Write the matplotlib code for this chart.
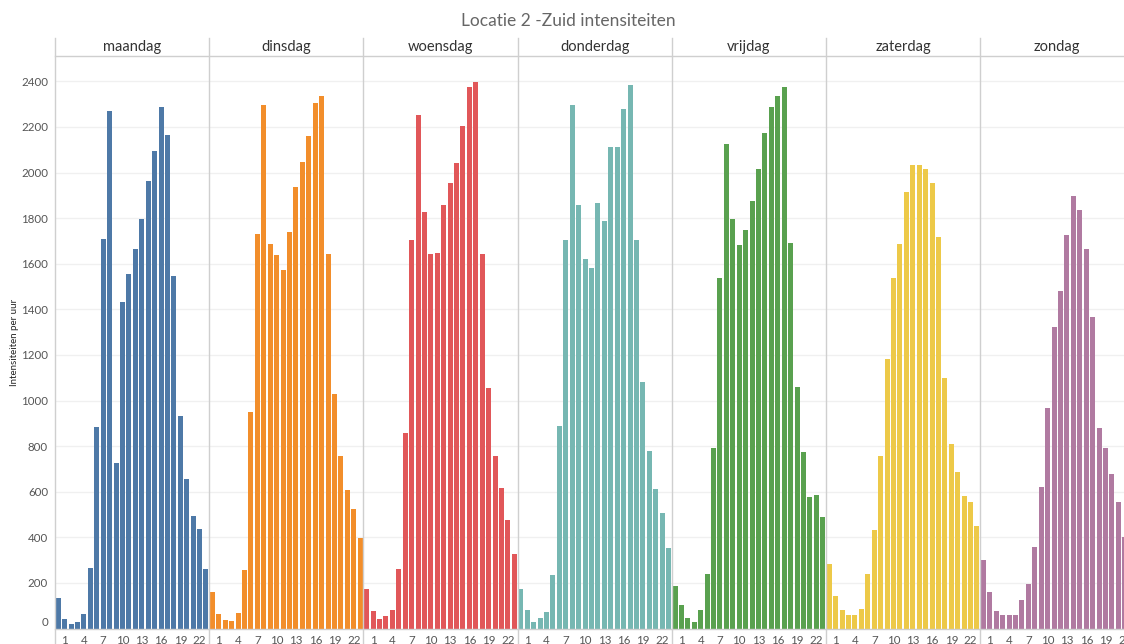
#!/usr/bin/env python3
"""
Locatie 2 - Zuid: hourly traffic intensities, one small panel per weekday.
"""

from __future__ import annotations

import matplotlib

matplotlib.use("Agg")
import matplotlib.pyplot as plt
from matplotlib.lines import Line2D


# ------------------------------ data ------------------------------ #
hours = list(range(24))
tick_hours = [1, 4, 7, 10, 13, 16, 19, 22]
y_ticks = [0, 200, 400, 600, 800, 1000, 1200, 1400, 1600, 1800, 2000, 2200, 2400]

days = ["maandag", "dinsdag", "woensdag", "donderdag", "vrijdag", "zaterdag", "zondag"]

maandag = [134, 43, 21, 28, 65, 265, 882, 1709, 2268, 726, 1434, 1556,
           1666, 1794, 1964, 2096, 2289, 2163, 1548, 932, 655, 494, 437, 261]
dinsdag = [160, 65, 38, 34, 69, 258, 948, 1732, 2294, 1687, 1639, 1574,
           1740, 1938, 2048, 2162, 2303, 2334, 1644, 1028, 757, 607, 526, 397]
woensdag = [172, 76, 43, 55, 81, 261, 858, 1706, 2251, 1825, 1644, 1649,
            1856, 1955, 2040, 2206, 2373, 2396, 1644, 1056, 757, 616, 476, 327]
donderdag = [172, 81, 28, 45, 72, 234, 889, 1706, 2298, 1859, 1622, 1579,
             1868, 1789, 2114, 2114, 2280, 2382, 1706, 1082, 779, 612, 507, 353]
vrijdag = [187, 103, 45, 28, 81, 239, 793, 1539, 2127, 1797, 1684, 1749,
           1873, 2017, 2175, 2289, 2334, 2377, 1692, 1059, 774, 576, 586, 488]
zaterdag = [282, 143, 81, 58, 58, 84, 239, 432, 757, 1183, 1539, 1687,
            1916, 2031, 2031, 2017, 1955, 1715, 1099, 810, 686, 581, 555, 449]
zondag = [301, 160, 76, 58, 58, 58, 124, 194, 358, 621, 968, 1324,
          1481, 1727, 1899, 1837, 1666, 1367, 880, 793, 678, 555, 402, 290]

series = [maandag, dinsdag, woensdag, donderdag, vrijdag, zaterdag, zondag]
colors = ["#4e79a7", "#f28e2b", "#e15759", "#76b7b2", "#59a14f", "#edc948", "#b07aa1"]
# ------------------------------------------------------------------ #

W, H = 1124, 644
LEFT = 55.0          # px, left edge of first panel
PANEL_W = 154.2      # px, width of one day panel
PLOT_TOP = 56.0      # px from top
PLOT_BOTTOM = 628.5  # px from top (value 0)
HEADER_TOP = 38.0
Y_MAX = 2511

GRID_C = "#f0f0f0"
LINE_C = "#cfcfcf"
TEXT_C = "#555555"


def fx(px: float) -> float:
    return px / W


def fy(py: float) -> float:
    return 1.0 - py / H


def main() -> None:
    plt.rcParams["font.family"] = ["Lato", "DejaVu Sans"]
    fig = plt.figure(figsize=(W / 100, H / 100), dpi=100)

    plot_h = (PLOT_BOTTOM - PLOT_TOP) / H

    for i, (day, vals, col) in enumerate(zip(days, series, colors)):
        x0 = LEFT + i * PANEL_W

        ax = fig.add_axes([fx(x0), fy(PLOT_BOTTOM), PANEL_W / W, plot_h])
        ax.bar(hours, vals, width=0.78, color=col, zorder=2)
        ax.set_xlim(-0.5, 23.5)
        ax.set_ylim(0, Y_MAX)
        ax.set_xticks(tick_hours)
        ax.set_xticklabels([str(h) for h in tick_hours])
        ax.set_yticks(y_ticks)
        ax.grid(axis="y", color=GRID_C, linewidth=1.0, zorder=0)
        ax.set_axisbelow(True)
        for side in ("top", "right", "left"):
            ax.spines[side].set_visible(False)
        ax.spines["bottom"].set_color(LINE_C)
        ax.spines["bottom"].set_linewidth(1.0)
        ax.tick_params(axis="x", length=0, pad=4.5, labelsize=8.3, labelcolor=TEXT_C)
        if i == 0:
            ax.tick_params(axis="y", length=0, pad=5, labelsize=8.3, labelcolor=TEXT_C)
            ax.set_yticklabels([str(v) for v in y_ticks])
            for lab in ax.get_yticklabels():
                if lab.get_text() == "0":
                    lab.set_verticalalignment("bottom")
        else:
            ax.tick_params(axis="y", length=0, labelleft=False)

        # day header
        fig.text(fx(x0 + PANEL_W / 2), fy((HEADER_TOP + PLOT_TOP) / 2), day,
                 ha="center", va="center", fontsize=10.5, color="#333333")

    # panel separators and header underline
    for i in range(len(days) + 1):
        xs = fx(LEFT + i * PANEL_W)
        fig.add_artist(Line2D([xs, xs], [0, fy(HEADER_TOP)], color=LINE_C, linewidth=1.0))
    fig.add_artist(Line2D([fx(LEFT), 1.0], [fy(PLOT_TOP), fy(PLOT_TOP)],
                          color=LINE_C, linewidth=1.0))

    fig.text(fx(568), fy(21), "Locatie 2 -Zuid intensiteiten",
             ha="center", va="center", fontsize=12.5, color="#666666")
    fig.text(fx(15), fy((PLOT_TOP + PLOT_BOTTOM) / 2), "Intensiteiten per uur",
             ha="center", va="center", rotation=90, fontsize=7, color="#222222")

    fig.savefig("out.png", dpi=100)
    plt.close(fig)


if __name__ == "__main__":
    main()
